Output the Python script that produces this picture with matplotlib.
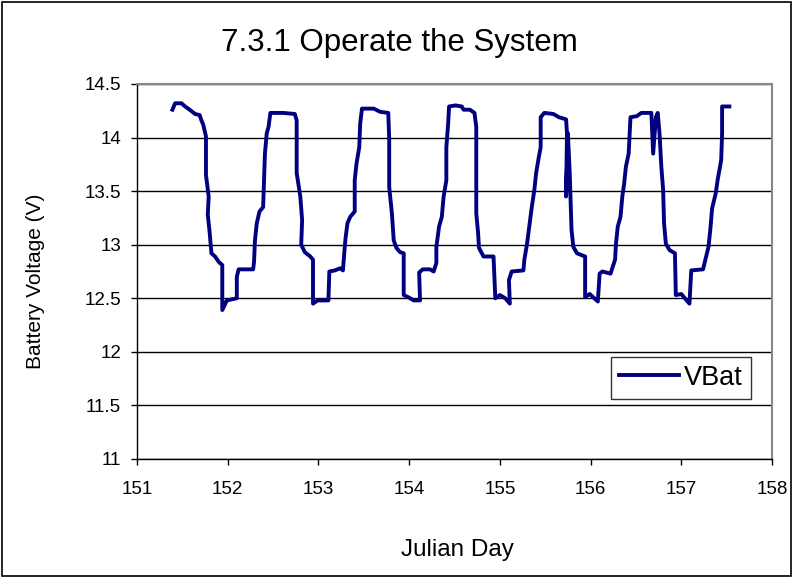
import matplotlib.pyplot as plt
from matplotlib.patches import Rectangle

plt.rcParams['font.family'] = ['Liberation Sans', 'DejaVu Sans']

# Battery voltage trace (Julian day, volts)
julian_day = [
    151.39, 151.42, 151.49, 151.53, 151.58, 151.64, 151.69, 151.71, 151.73, 151.76,
    151.76, 151.79, 151.78, 151.80, 151.82, 151.86, 151.90, 151.94, 151.94, 151.99,
    152.10, 152.10, 152.12, 152.28, 152.29, 152.30, 152.32, 152.35, 152.39, 152.40,
    152.41, 152.43, 152.45, 152.47, 152.61, 152.74, 152.76, 152.76, 152.80, 152.82,
    152.81, 152.85, 152.91, 152.94, 152.94, 152.99, 153.11, 153.12, 153.18, 153.24,
    153.27, 153.29, 153.30, 153.32, 153.35, 153.40, 153.40, 153.42, 153.45, 153.46,
    153.48, 153.61, 153.68, 153.77, 153.78, 153.78, 153.81, 153.83, 153.86, 153.90,
    153.94, 153.94, 153.99, 154.05, 154.12, 154.11, 154.15, 154.23, 154.27, 154.30,
    154.30, 154.33, 154.36, 154.38, 154.41, 154.41, 154.43, 154.44, 154.51, 154.58,
    154.60, 154.67, 154.72, 154.74, 154.74, 154.74, 154.76, 154.77, 154.82, 154.93,
    154.95, 155.00, 155.06, 155.11, 155.10, 155.13, 155.26, 155.27, 155.30, 155.33,
    155.35, 155.38, 155.40, 155.43, 155.45, 155.45, 155.49, 155.59, 155.65, 155.73,
    155.74, 155.73, 155.75, 155.77, 155.78, 155.79, 155.81, 155.85, 155.94, 155.94,
    155.99, 156.08, 156.10, 156.13, 156.22, 156.27, 156.28, 156.30, 156.33, 156.35,
    156.37, 156.39, 156.42, 156.44, 156.51, 156.56, 156.67, 156.69, 156.72, 156.74,
    156.76, 156.78, 156.80, 156.81, 156.83, 156.87, 156.93, 156.94, 157.00, 157.05,
    157.09, 157.11, 157.24, 157.26, 157.30, 157.32, 157.34, 157.38, 157.40, 157.44,
    157.45, 157.45, 157.53,
]
vbat = [
    14.26, 14.32, 14.32, 14.29, 14.26, 14.22, 14.21, 14.16, 14.12, 14.01,
    13.65, 13.45, 13.28, 13.12, 12.92, 12.89, 12.84, 12.81, 12.39, 12.48,
    12.50, 12.70, 12.77, 12.77, 12.84, 13.04, 13.20, 13.31, 13.35, 13.60,
    13.85, 14.04, 14.10, 14.23, 14.23, 14.22, 14.16, 13.67, 13.45, 13.23,
    13.00, 12.93, 12.89, 12.86, 12.45, 12.48, 12.48, 12.75, 12.76, 12.78,
    12.76, 12.98, 13.07, 13.20, 13.26, 13.31, 13.60, 13.76, 13.91, 14.13,
    14.27, 14.27, 14.24, 14.23, 13.98, 13.54, 13.29, 13.04, 12.97, 12.93,
    12.92, 12.53, 12.51, 12.48, 12.48, 12.74, 12.77, 12.77, 12.75, 12.83,
    12.98, 13.17, 13.26, 13.45, 13.60, 13.91, 14.13, 14.29, 14.30, 14.29,
    14.26, 14.26, 14.23, 14.10, 13.76, 13.29, 13.11, 12.97, 12.89, 12.89,
    12.50, 12.53, 12.50, 12.45, 12.67, 12.75, 12.76, 12.86, 13.01, 13.21,
    13.34, 13.51, 13.67, 13.82, 13.91, 14.19, 14.23, 14.22, 14.19, 14.17,
    14.04, 13.45, 14.04, 13.67, 13.39, 13.14, 12.98, 12.92, 12.89, 12.51,
    12.54, 12.47, 12.73, 12.75, 12.73, 12.86, 13.01, 13.17, 13.26, 13.45,
    13.57, 13.73, 13.85, 14.19, 14.20, 14.23, 14.23, 13.85, 14.19, 14.23,
    14.04, 13.73, 13.51, 13.20, 13.01, 12.95, 12.92, 12.53, 12.54, 12.49,
    12.45, 12.76, 12.77, 12.84, 12.98, 13.14, 13.34, 13.48, 13.60, 13.79,
    14.04, 14.29, 14.29,
]

x_ticks = [151, 152, 153, 154, 155, 156, 157, 158]
y_ticks = [11, 11.5, 12, 12.5, 13, 13.5, 14, 14.5]
y_tick_labels = ['11', '11.5', '12', '12.5', '13', '13.5', '14', '14.5']

fig = plt.figure(figsize=(7.93, 5.78), dpi=100)
ax = fig.add_axes([0.1728, 0.2059, 0.8007, 0.6488])

ax.plot(julian_day, vbat, color='#000080', linewidth=2.8, label='VBat')

ax.set_xlim(151, 158)
ax.set_ylim(11, 14.5)
ax.set_xticks(x_ticks)
ax.set_yticks(y_ticks)
ax.set_yticklabels(y_tick_labels)
ax.tick_params(labelsize=13.5, direction='out', length=4.5, width=1, colors='black')
ax.tick_params(axis='x', pad=11)
ax.tick_params(axis='y', pad=7)

ax.grid(axis='y', color='black', linewidth=1)
ax.set_axisbelow(True)
for side in ['top', 'right']:
    ax.spines[side].set_color('#888888')
    ax.spines[side].set_linewidth(1.5)
for side in ['left', 'bottom']:
    ax.spines[side].set_color('black')
    ax.spines[side].set_linewidth(1)

fig.text(0.577, 0.048, 'Julian Day', fontsize=17.5, ha='center', va='center')
fig.text(0.045, 0.513, 'Battery Voltage (V)', fontsize=15, rotation=90,
         ha='center', va='center')
fig.text(0.504, 0.926, '7.3.1 Operate the System', fontsize=22.5, ha='center', va='center')

leg = ax.legend(loc='lower right', bbox_to_anchor=(0.967, 0.16), fontsize=19.5,
                frameon=True, fancybox=False, borderpad=0.3, handlelength=2.2,
                handletextpad=0.2, borderaxespad=0)
leg.get_frame().set_edgecolor('black')
leg.get_frame().set_linewidth(1)

fig.patches.append(Rectangle((0.003, 0.004), 0.994, 0.992, transform=fig.transFigure,
                             fill=False, edgecolor='black', linewidth=1.2))

fig.savefig('out.png', dpi=100)
